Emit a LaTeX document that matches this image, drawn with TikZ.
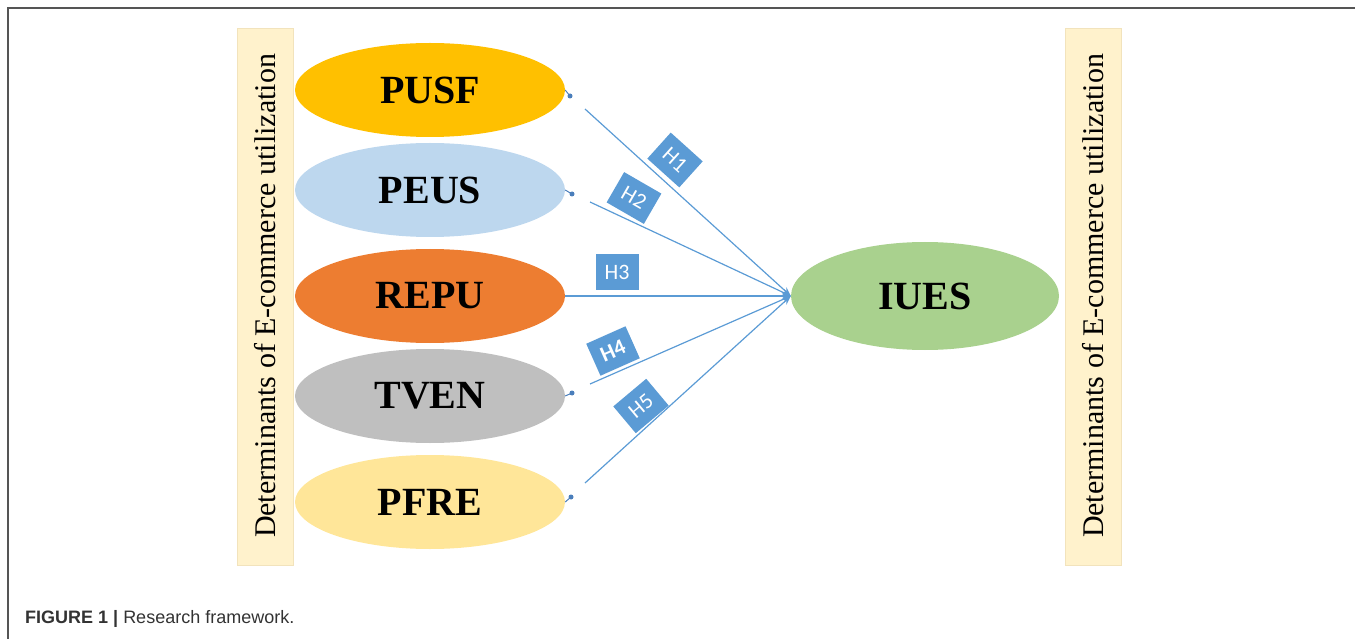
\documentclass[tikz,border=0pt]{standalone}
\usepackage{fontspec}
\setmainfont{Liberation Serif}
\newfontfamily\capfont{Liberation Sans}
\newfontfamily\hfont{Carlito}
\usetikzlibrary{shapes.geometric,arrows.meta}
\definecolor{cPUSF}{HTML}{FFC000}
\definecolor{cPEUS}{HTML}{BDD7EE}
\definecolor{cREPU}{HTML}{ED7D31}
\definecolor{cTVEN}{HTML}{BFBFBF}
\definecolor{cPFRE}{HTML}{FFE699}
\definecolor{cIUES}{HTML}{A9D18E}
\definecolor{cbar}{HTML}{FFF2CC}
\definecolor{cbarline}{HTML}{F2E3BC}
\definecolor{cblue}{HTML}{5B9BD5}
\definecolor{cdot}{HTML}{4A7EBB}
\definecolor{cframe}{HTML}{555555}
\definecolor{ccap}{HTML}{333333}
\tikzset{
  ell/.style={ellipse, draw=none, minimum width=270pt, minimum height=94pt, inner sep=0pt,
    font=\fontsize{40}{40}\selectfont\bfseries},
  sidebar/.style={fill=cbar, draw=cbarline, line width=0.8pt},
  sidetext/.style={rotate=90, font=\fontsize{30}{30}\selectfont, inner sep=0pt},
  conn/.style={draw=cblue, line width=1.2pt},
  arr/.style={conn, -{Stealth[length=9pt,width=7pt]}},
  tick/.style={draw=cdot, line width=1pt},
  dotmark/.style={circle, fill=cdot, inner sep=0pt, minimum size=5pt},
  hlab/.style={fill=cblue, text=white, minimum width=43pt, minimum height=35pt, inner sep=0pt,
    font=\hfont\fontsize{22}{22}\selectfont}
}
\begin{document}
\begin{tikzpicture}[x=1pt,y=-1pt]
\useasboundingbox (0,0) rectangle (1355,639);
% frame
\draw[cframe, line width=1.6pt] (8,639) -- (8,8) -- (1355,8);
% side bars
\draw[sidebar] (237,28) rectangle (293,565);
\node[sidetext] (lt) at (265,296) {Determinants of E-commerce utilization};
\draw[sidebar] (1065,28) rectangle (1121,565);
\node[sidetext] (rt) at (1093,296) {Determinants of E-commerce utilization};
% ellipses
\node[ell, fill=cPUSF] (pusf) at (430,90) {PUSF};
\node[ell, fill=cPEUS] (peus) at (430,190) {PEUS};
\node[ell, fill=cREPU] (repu) at (430,296) {REPU};
\node[ell, fill=cTVEN] (tven) at (430,396) {TVEN};
\node[ell, fill=cPFRE] (pfre) at (430,502) {PFRE};
\node[ell, fill=cIUES, minimum width=268pt, minimum height=108pt] (iues) at (925,296) {IUES};
% dots
\node[dotmark] (d1) at (570,96) {};
\node[dotmark] (d2) at (572,194) {};
\node[dotmark] (d4) at (572,393) {};
\node[dotmark] (d5) at (571,497) {};
\draw[tick] (pusf.east) -- (d1.center);
\draw[tick] (peus.east) -- (d2.center);
\draw[tick] (tven.east) -- (d4.center);
\draw[tick] (pfre.east) -- (d5.center);
% line starts
\coordinate (s1) at (585,109);
\coordinate (s2) at (590,202);
\coordinate (s4) at (590,384);
\coordinate (s5) at (585,483);
\draw[arr] (s1) -- (iues.west);
\draw[arr] (s2) -- (iues.west);
\draw[arr] (repu.east) -- (iues.west);
\draw[arr] (s4) -- (iues.west);
\draw[arr] (s5) -- (iues.west);
% hypothesis labels
\node[hlab, rotate=-42] (h1) at (675,160) {H1};
\node[hlab, rotate=-30] (h2) at (634,198) {H2};
\node[hlab] (h3) at (617,272) {H3};
\node[hlab, rotate=24, font=\hfont\fontsize{22}{22}\selectfont\bfseries] (h4) at (613,351) {H4};
\node[hlab, rotate=40] (h5) at (641,406) {H5};
% caption
\node[anchor=base west, inner sep=0pt, text=ccap, font=\capfont\fontsize{18}{18}\selectfont] (cap) at (25,623)
  {\textbf{FIGURE 1 |} Research framework.};
\end{tikzpicture}
\end{document}
